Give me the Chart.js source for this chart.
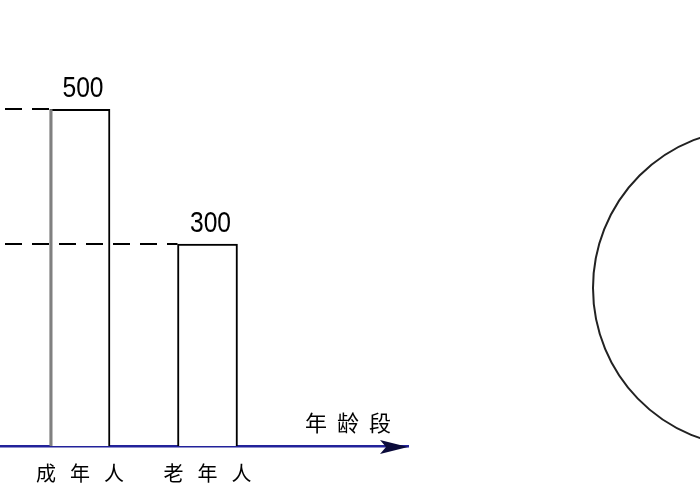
<!DOCTYPE html>
<html>
<head>
<meta charset="utf-8">
<script src="https://cdn.jsdelivr.net/npm/chart.js@4.4.1/dist/chart.umd.min.js"></script>
<style>
  html, body { margin: 0; padding: 0; width: 700px; height: 490px; overflow: hidden; background: #fff; }
  #barWrap { position: absolute; left: 0; top: 0; width: 700px; height: 490px; }
  #pieWrap { position: absolute; left: 582px; top: 118px; width: 340px; height: 340px; }
</style>
</head>
<body>
<div id="barWrap"><canvas id="barChart"></canvas></div>
<div id="pieWrap"><canvas id="pieChart"></canvas></div>
<script>
// data
const categories = ['成年人', '老年人'];
const counts = [500, 300];
const categoryPos = [1, 2];
const axisTitle = '年龄段';

const numFont = '30px "Liberation Sans", sans-serif';
const cjkFont = '"Noto Sans CJK SC", sans-serif';

// dashed guide lines, value labels, arrow head and axis title
const decorations = {
  id: 'decorations',
  afterDatasetsDraw(chart) {
    const ctx = chart.ctx;
    const area = chart.chartArea;
    const y = chart.scales.y;
    const bars = chart.getDatasetMeta(0).data;
    ctx.save();

    // dashed guides from the left edge to each bar (drawn over the bars)
    ctx.strokeStyle = '#000';
    ctx.lineWidth = 2;
    ctx.setLineDash([17, 10]);
    ctx.lineDashOffset = 22;
    bars.forEach((bar, i) => {
      const py = Math.round(y.getPixelForValue(counts[i]));
      ctx.beginPath();
      ctx.moveTo(0, py);
      ctx.lineTo(bar.x - bar.width / 2, py);
      ctx.stroke();
    });
    ctx.setLineDash([]);

    // grey left edge on first bar
    const b0 = bars[0];
    ctx.strokeStyle = '#808080';
    ctx.lineWidth = 3;
    ctx.beginPath();
    ctx.moveTo(b0.x - b0.width / 2 + 1, b0.y);
    ctx.lineTo(b0.x - b0.width / 2 + 1, area.bottom);
    ctx.stroke();

    // value labels, a little condensed
    ctx.fillStyle = '#000';
    ctx.font = numFont;
    ctx.textAlign = 'center';
    ctx.textBaseline = 'alphabetic';
    bars.forEach((bar, i) => {
      ctx.save();
      ctx.translate(bar.x + 3, bar.y - 12);
      ctx.scale(0.82, 1);
      ctx.fillText(String(counts[i]), 0, 0);
      ctx.restore();
    });

    // arrow head at end of axis
    const ay = area.bottom + 1;
    const ax = area.right;
    ctx.fillStyle = '#0a0a3a';
    ctx.beginPath();
    ctx.moveTo(ax, ay);
    ctx.lineTo(ax - 28, ay - 7);
    ctx.lineTo(ax - 22, ay);
    ctx.lineTo(ax - 28, ay + 7);
    ctx.closePath();
    ctx.fill();

    // axis title
    ctx.fillStyle = '#000';
    ctx.font = '22px ' + cjkFont;
    ctx.letterSpacing = '10px';
    ctx.textAlign = 'left';
    ctx.textBaseline = 'middle';
    ctx.fillText(axisTitle, 305, 423);
    ctx.restore();
  }
};

const xMin = 1 - 80 / 127.5;
const xMax = xMin + 408 / 127.5;

new Chart(document.getElementById('barChart'), {
  type: 'bar',
  data: {
    datasets: [{
      data: categoryPos.map((x, i) => ({ x: x, y: counts[i] })),
      backgroundColor: '#fff',
      borderColor: '#000',
      borderWidth: 2,
      borderSkipped: 'bottom',
      barThickness: 60
    }]
  },
  options: {
    responsive: true,
    maintainAspectRatio: false,
    animation: false,
    layout: { padding: { left: 0, right: 292, top: 42, bottom: 0 } },
    plugins: { legend: { display: false }, tooltip: { enabled: false } },
    scales: {
      x: {
        type: 'linear',
        offset: false,
        min: xMin,
        max: xMax,
        grid: { display: false, drawTicks: false, offset: false },
        border: { display: true, color: '#22229a', width: 2.5 },
        afterBuildTicks: (scale) => { scale.ticks = categoryPos.map(v => ({ value: v })); },
        afterFit: (scale) => { scale.height = 44; },
        ticks: {
          padding: 15,
          color: '#000',
          font: { family: cjkFont, size: 20 },
          callback: (v) => {
            const i = categoryPos.indexOf(v);
            return i < 0 ? '' : categories[i].split('').join('\u2002\u2009');
          }
        }
      },
      y: { display: false, min: 0, max: 600 }
    }
  },
  plugins: [decorations]
});

// pie on the right, only its left edge shows
new Chart(document.getElementById('pieChart'), {
  type: 'pie',
  data: {
    labels: categories,
    datasets: [{
      data: counts,
      backgroundColor: '#fff',
      borderColor: '#222',
      borderWidth: 2
    }]
  },
  options: {
    responsive: true,
    maintainAspectRatio: false,
    animation: false,
    rotation: 157.5,
    layout: { padding: 10 },
    plugins: { legend: { display: false }, tooltip: { enabled: false } }
  }
});
</script>
</body>
</html>
